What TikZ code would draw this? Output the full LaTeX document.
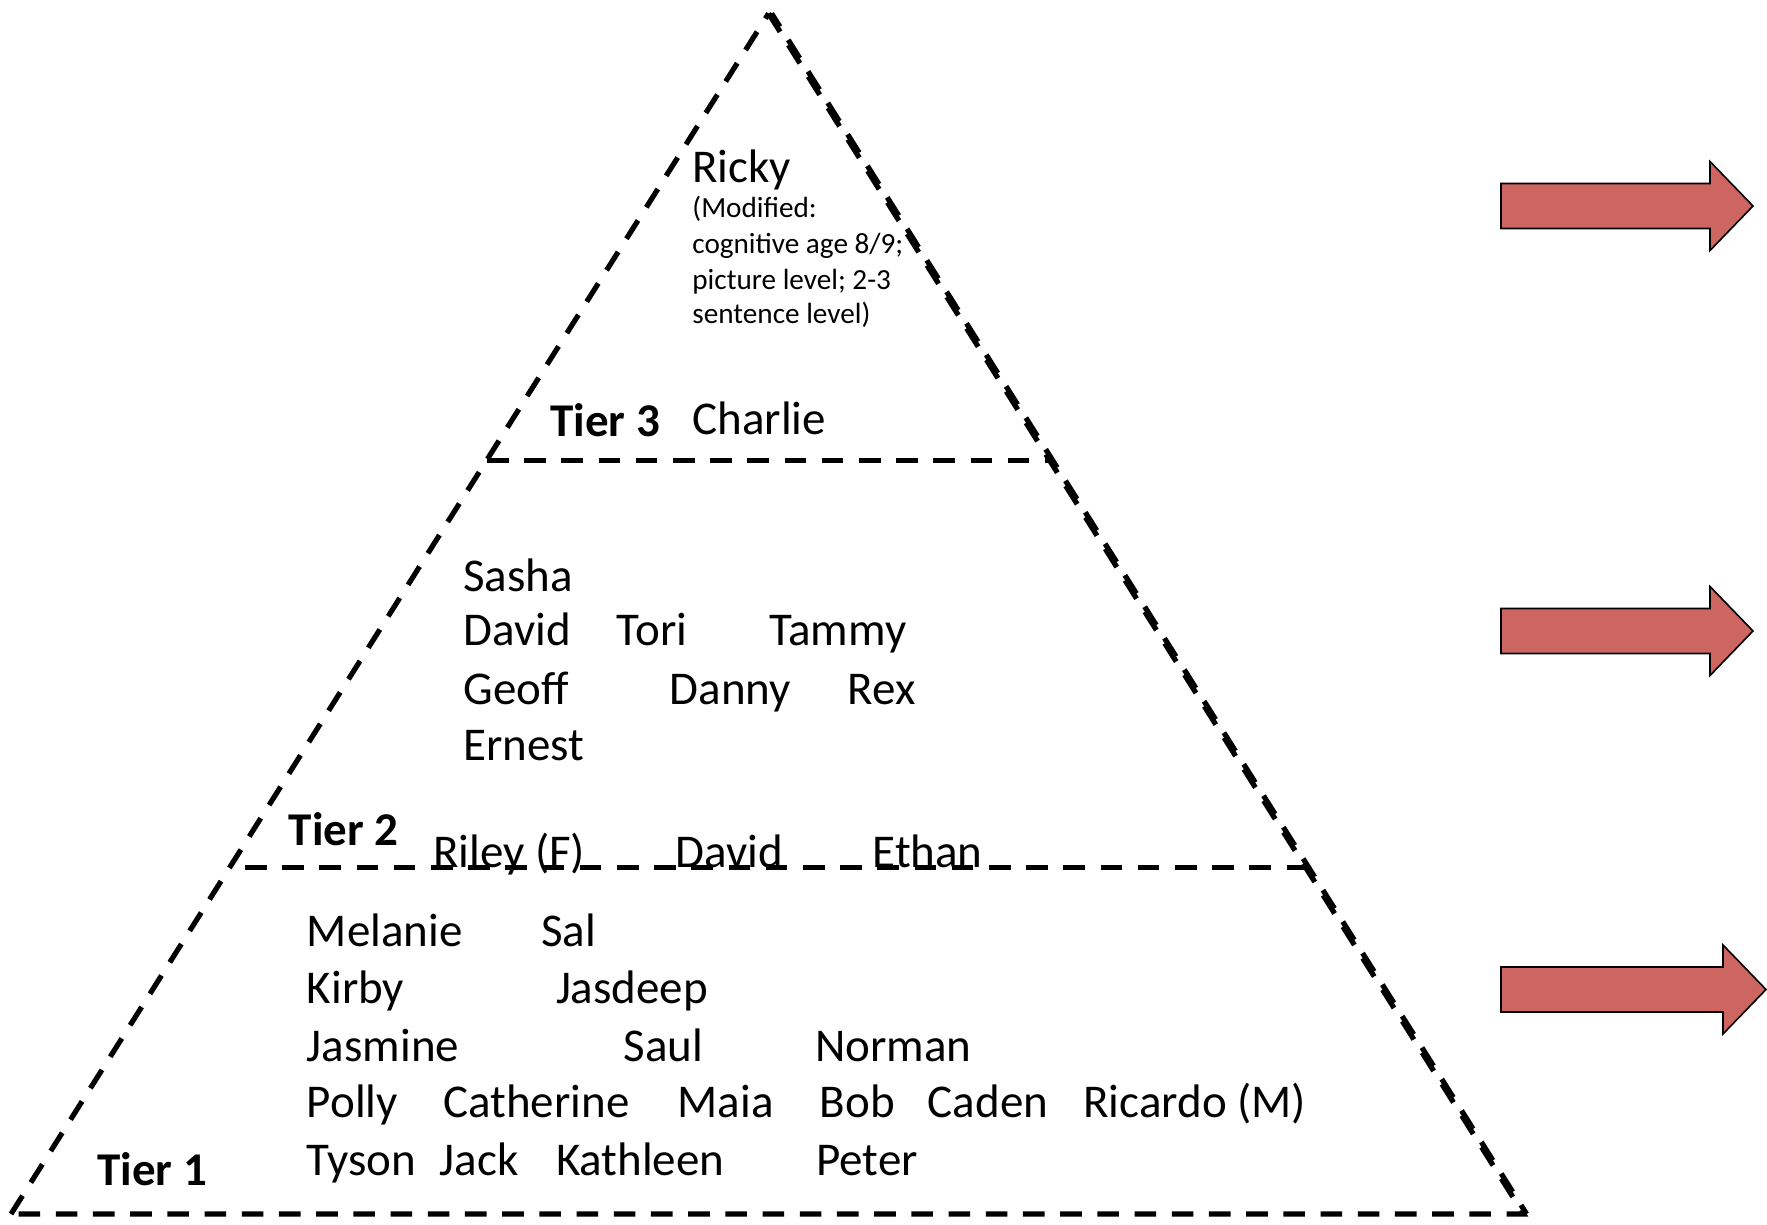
\documentclass[tikz,border=0pt]{standalone}
\usepackage{fontspec}
\setmainfont{Carlito}
\definecolor{arrowred}{RGB}{205,102,96}
\tikzset{
  kid/.style={anchor=base west, inner sep=0pt, font=\fontsize{23.5}{28}\selectfont},
  tier/.style={kid, font=\fontsize{23.5}{28}\selectfont\bfseries},
  note/.style={anchor=base west, inner sep=0pt, font=\fontsize{14.6}{18}\selectfont},
  pyr/.style={line width=2.6pt, dash pattern=on 10.8pt off 7.8pt},
  fatarrow/.style={draw=black, line width=0.8pt, fill=arrowred}
}

\begin{document}
\begin{tikzpicture}[x=0.5pt, y=-0.5pt]
  \useasboundingbox (0,0) rectangle (1767,1225);

  % pyramid
  \coordinate (apex) at (768.6,13.5);
  \coordinate (bl)   at (11,1214);
  \coordinate (br)   at (1523.6,1214);
  \coordinate (t3l)  at (487,460.5);
  \coordinate (t3r)  at (1050,460.5);
  \coordinate (t2l)  at (245,867.7);
  \coordinate (t2r)  at (1312,867.7);

  \draw[pyr] (bl) -- (apex);
  \draw[pyr] (apex) -- (br) -- (bl);
  \draw[pyr, dash phase=3pt] ([xshift=1.5pt]apex) -- ([xshift=1.5pt]br);
  \draw[pyr] (t3l) -- (t3r);
  \draw[pyr] (t2l) -- (t2r);

  % tier 3
  \node[tier] (tier3) at (550,436) {Tier 3};
  \node[kid]  (ricky) at (692,182.6) {Ricky};
  \node[note] (note1) at (692,217.5) {(Modified:};
  \node[note] (note2) at (692,253.5) {cognitive age 8/9;};
  \node[note] (note3) at (692,289.6) {picture level; 2-3};
  \node[note] (note4) at (692,323.4) {sentence level)};
  \node[kid]  (charlie) at (692,434) {Charlie};

  % tier 2
  \node[tier] (tier2) at (288.5,845.2) {Tier 2};
  \node[kid] (sasha)  at (463,591.6) {Sasha};
  \node[kid] (david)  at (463,645.7) {David};
  \node[kid] (tori)   at (616.4,645.7) {Tori};
  \node[kid] (tammy)  at (768.6,645.7) {Tammy};
  \node[kid] (geoff)  at (463,704.3) {Geoff};
  \node[kid] (danny)  at (669.4,704.3) {Danny};
  \node[kid] (rex)    at (847.4,704.3) {Rex};
  \node[kid] (ernest) at (463,760.7) {Ernest};
  \node[kid] (riley)  at (432.7,867.7) {Riley (F)};
  \node[kid] (david2) at (675,867.7) {David};
  \node[kid] (ethan)  at (872.2,867.7) {Ethan};

  % tier 1
  \node[tier] (tier1) at (96.9,1185.5) {Tier 1};
  \node[kid] (melanie)   at (306.5,946.6) {Melanie};
  \node[kid] (sal)       at (541,946.6) {Sal};
  \node[kid] (kirby)     at (306.5,1003) {Kirby};
  \node[kid] (jasdeep)   at (555.6,1003) {Jasdeep};
  \node[kid] (jasmine)   at (306.5,1061.5) {Jasmine};
  \node[kid] (saul)      at (623.2,1061.5) {Saul};
  \node[kid] (norman)    at (814.7,1061.5) {Norman};
  \node[kid] (polly)     at (306.5,1117.9) {Polly};
  \node[kid] (catherine) at (442.9,1117.9) {Catherine};
  \node[kid] (maia)      at (677.3,1117.9) {Maia};
  \node[kid] (bob)       at (819.3,1117.9) {Bob};
  \node[kid] (caden)     at (927.4,1117.9) {Caden};
  \node[kid] (ricardo)   at (1083,1117.9) {Ricardo (M)};
  \node[kid] (tyson)     at (306.5,1175.4) {Tyson};
  \node[kid] (jack)      at (439.5,1175.4) {Jack};
  \node[kid] (kathleen)  at (555.6,1175.4) {Kathleen};
  \node[kid] (peter)     at (815.9,1175.4) {Peter};

  % arrows
  \foreach \y/\tip in {206/1753, 631/1753, 989.5/1766}
    \draw[fatarrow] (1501,\y-22.5) -- (\tip-43,\y-22.5) -- (\tip-43,\y-44.5)
      -- (\tip,\y) -- (\tip-43,\y+44.5) -- (\tip-43,\y+22.5) -- (1501,\y+22.5) -- cycle;
\end{tikzpicture}
\end{document}
